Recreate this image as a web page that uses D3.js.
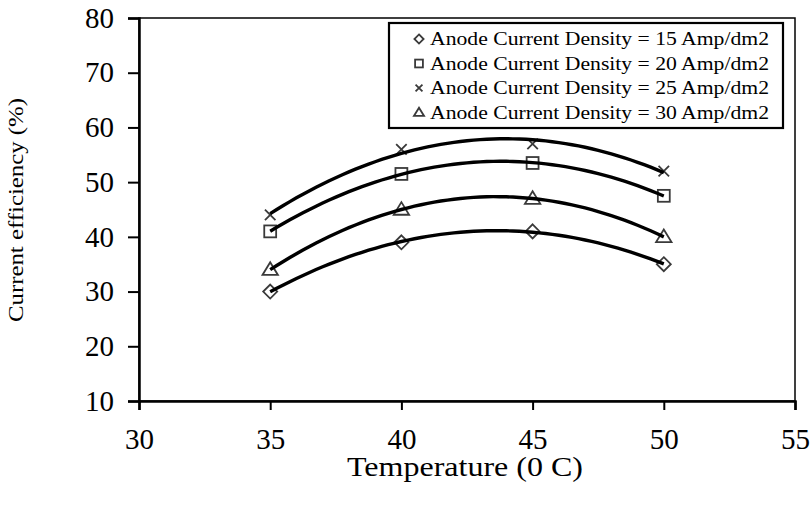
<!DOCTYPE html>
<html>
<head>
<meta charset="utf-8">
<script src="https://cdn.jsdelivr.net/npm/d3@7"></script>
<style>
  body { margin: 0; background: #fff; }
  text { font-family: "Liberation Serif", "Times New Roman", serif; }
</style>
</head>
<body>
<div id="chart"></div>
<script>
// data
const temps = [35, 40, 45, 50];
const cd15 = [30, 39, 41, 35];
const cd20 = [41, 51.5, 53.5, 47.5];
const cd25 = [44, 56, 57, 52];
const cd30 = [34, 45, 47, 40];
const seriesNames = ["Anode Current Density = 15 Amp/dm2", "Anode Current Density = 20 Amp/dm2",
                     "Anode Current Density = 25 Amp/dm2", "Anode Current Density = 30 Amp/dm2"];
const xTicks = [30, 35, 40, 45, 50, 55];
const yTicks = [10, 20, 30, 40, 50, 60, 70, 80];

const series = [
  {name: seriesNames[0], values: cd15, sym: "diamond"},
  {name: seriesNames[1], values: cd20, sym: "square"},
  {name: seriesNames[2], values: cd25, sym: "cross"},
  {name: seriesNames[3], values: cd30, sym: "triangle"}
];

const W = 811, H = 510;
const margin = {top: 18, right: 16, bottom: 109, left: 139},
    width = W - margin.left - margin.right,
    height = H - margin.top - margin.bottom;

const svg = d3.select("#chart").append("svg")
    .attr("width", W).attr("height", H)
  .append("g")
    .attr("transform", "translate(" + margin.left + "," + margin.top + ")");

const x = d3.scaleLinear().domain([30, 55]).range([0, width]);
const y = d3.scaleLinear().domain([10, 80]).range([height, 0]);

// plot box
svg.append("rect")
  .attr("x", 0).attr("y", 0).attr("width", width).attr("height", height)
  .attr("fill", "none").attr("stroke", "#000").attr("stroke-width", 1.5);

// axes
const xAxis = svg.append("g")
  .attr("transform", "translate(0," + height + ")")
  .call(d3.axisBottom(x).tickValues(xTicks).tickSize(9).tickPadding(18));
const yAxis = svg.append("g")
  .call(d3.axisLeft(y).tickValues(yTicks).tickSize(11).tickPadding(14));
[xAxis, yAxis].forEach(function(a) {
  a.select(".domain").attr("stroke-width", 2.5);
  a.selectAll(".tick line").attr("stroke-width", 2);
  a.selectAll(".tick text")
    .style("font-family", "'Liberation Serif', 'Times New Roman', serif")
    .style("font-size", "29px").attr("fill", "#000");
});

// axis titles
svg.append("text")
  .attr("x", width / 2 - 2).attr("y", height + 75)
  .attr("text-anchor", "middle").style("font-size", "27px")
  .attr("textLength", 236).attr("lengthAdjust", "spacingAndGlyphs")
  .text("Temperature (0 C)");
svg.append("text")
  .attr("transform", "rotate(-90)")
  .attr("x", -192).attr("y", -116)
  .attr("text-anchor", "middle").style("font-size", "21px")
  .attr("textLength", 224).attr("lengthAdjust", "spacingAndGlyphs")
  .text("Current efficiency (%)");

// marker drawing
function marker(g, sym, s) {
  let el;
  if (sym === "diamond") {
    el = g.append("path").attr("d", `M0,${-s}L${s},0L0,${s}L${-s},0Z`);
  } else if (sym === "square") {
    el = g.append("rect").attr("x", -s * 0.85).attr("y", -s * 0.85)
      .attr("width", s * 1.7).attr("height", s * 1.7);
  } else if (sym === "cross") {
    const c = s * 0.75;
    el = g.append("path").attr("d", `M${-c},${-c}L${c},${c}M${-c},${c}L${c},${-c}`);
  } else {
    el = g.append("path").attr("d", `M0,${-s * 1.05}L${s * 1.1},${s * 0.75}L${-s * 1.1},${s * 0.75}Z`);
  }
  el.attr("fill", "none").attr("stroke", "#3a3a3a").attr("stroke-width", 1.8);
}

// points
series.forEach(function(s) {
  s.values.forEach(function(v, i) {
    const g = svg.append("g").attr("transform", `translate(${x(temps[i])},${y(v)})`);
    marker(g, s.sym, 7);
  });
});

// polynomial (order 2) trendlines, least squares fit of each series
function quadFit(xs, ys) {
  let n = xs.length, S = [0, 0, 0, 0, 0], T = [0, 0, 0];
  for (let i = 0; i < n; i++) {
    for (let k = 0; k < 5; k++) S[k] += Math.pow(xs[i], k);
    for (let k = 0; k < 3; k++) T[k] += ys[i] * Math.pow(xs[i], k);
  }
  const M = [[S[0], S[1], S[2], T[0]], [S[1], S[2], S[3], T[1]], [S[2], S[3], S[4], T[2]]];
  for (let c = 0; c < 3; c++) {
    for (let r = c + 1; r < 3; r++) {
      const f = M[r][c] / M[c][c];
      for (let k = c; k < 4; k++) M[r][k] -= f * M[c][k];
    }
  }
  const coef = [0, 0, 0];
  for (let r = 2; r >= 0; r--) {
    let sum = M[r][3];
    for (let k = r + 1; k < 3; k++) sum -= M[r][k] * coef[k];
    coef[r] = sum / M[r][r];
  }
  return coef;
}

const line = d3.line().x(d => x(d[0])).y(d => y(d[1]));
series.forEach(function(s) {
  const xs = temps.map(t => t - 42.5);
  const c = quadFit(xs, s.values);
  const pts = d3.range(35, 50.01, 0.25).map(t => {
    const u = t - 42.5;
    return [t, c[0] + c[1] * u + c[2] * u * u];
  });
  svg.append("path").datum(pts)
    .attr("d", line).attr("fill", "none")
    .attr("stroke", "#000").attr("stroke-width", 3.4);
});

// legend (placed in pixels, top right of the plot)
const lg = svg.append("g").attr("transform", "translate(250,5)");
lg.append("rect").attr("x", 0).attr("y", 0).attr("width", 394).attr("height", 105)
  .attr("fill", "#fff").attr("stroke", "#000").attr("stroke-width", 2.2);
series.forEach(function(s, i) {
  const row = lg.append("g").attr("transform", `translate(0,${16 + i * 24.5})`);
  const m = row.append("g").attr("transform", "translate(30,0)");
  marker(m, s.sym, 4.6);
  row.append("text").attr("x", 41).attr("y", 6)
    .style("font-size", "18.5px")
    .attr("textLength", 339).attr("lengthAdjust", "spacingAndGlyphs")
    .text(s.name);
});
</script>
</body>
</html>
